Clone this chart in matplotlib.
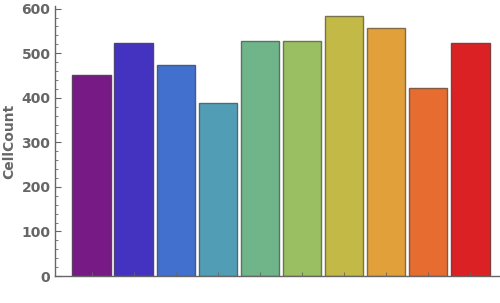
import numpy as np
import matplotlib
matplotlib.use("Agg")
import matplotlib.pyplot as plt
from matplotlib.ticker import MultipleLocator
from matplotlib.colors import to_rgb

# cell counts per bin
counts = [452, 524, 474, 389, 527, 527, 583, 556, 423, 522]
colors = ['#781A86', '#4432C0', '#4170CE', '#529DB6', '#70B58A',
          '#9ABE62', '#C3B946', '#E1A03A', '#E66C30', '#DB2123']
ylabel = 'CellCount'

grey = '#666666'
x = np.arange(1, len(counts) + 1)
edges = [tuple(0.35 * c + 0.2 for c in to_rgb(col)) for col in colors]

fig = plt.figure(figsize=(5.0, 3.03), dpi=100)
ax = fig.add_axes([0.1106, 0.0891, 0.8874, 0.8911])

ax.bar(x, counts, width=0.91, color=colors, edgecolor=edges, linewidth=1.0)

ax.set_xlim(0.14, 10.68)
ax.set_ylim(0, 606)
ax.set_xticks(x)
ax.set_xticklabels([])
ax.yaxis.set_major_locator(MultipleLocator(100))
ax.yaxis.set_minor_locator(MultipleLocator(20))
ax.tick_params(axis='both', which='both', direction='in', color=grey)
ax.tick_params(axis='y', which='major', length=4, width=0.8)
ax.tick_params(axis='y', which='minor', length=2, width=0.6)
ax.tick_params(axis='x', which='major', length=3, width=0.6)
for lab in ax.get_yticklabels():
    lab.set_fontweight('bold')
    lab.set_fontsize(10)
    lab.set_color(grey)

for s in ['top', 'right']:
    ax.spines[s].set_visible(False)
for s in ['left', 'bottom']:
    ax.spines[s].set_color(grey)
    ax.spines[s].set_linewidth(1.0)

ax.set_ylabel(ylabel, fontsize=10, fontweight='bold', color=grey, labelpad=4)

fig.savefig('out.png', dpi=100)
